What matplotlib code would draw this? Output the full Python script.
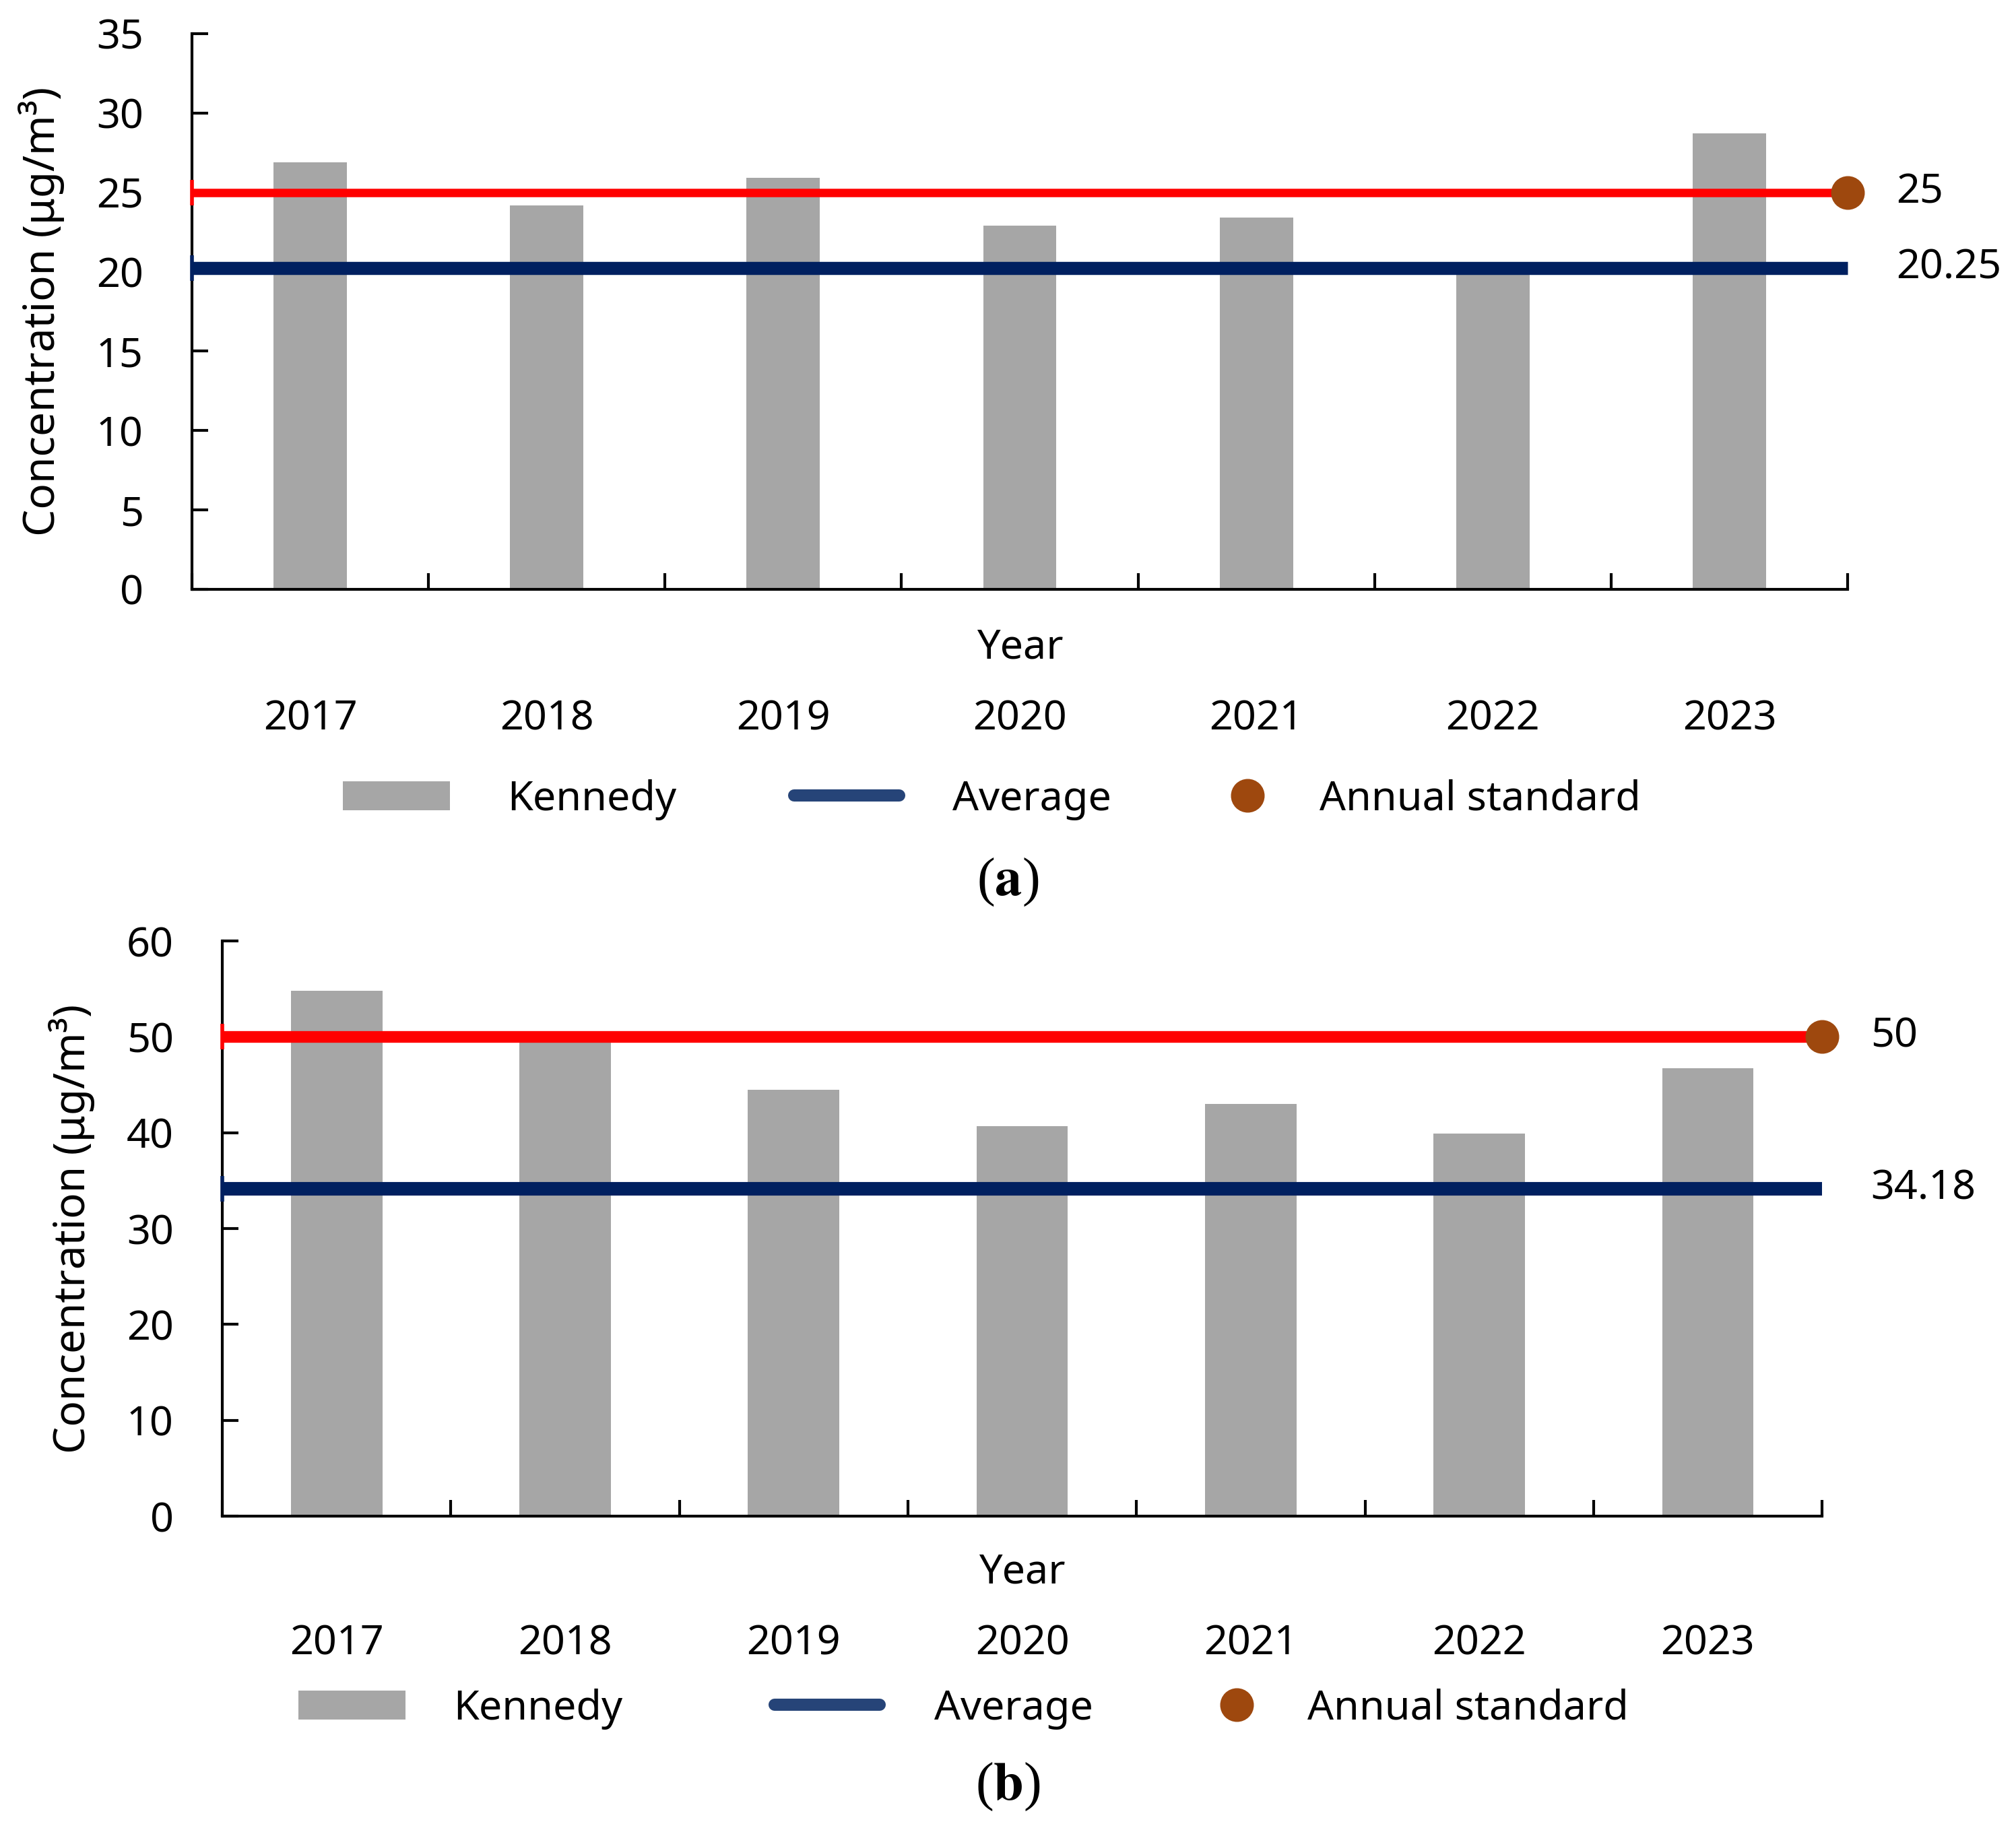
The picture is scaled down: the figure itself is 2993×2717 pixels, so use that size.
import matplotlib
matplotlib.use('Agg')
import matplotlib.pyplot as plt
from matplotlib.patches import Patch
from matplotlib.lines import Line2D
import numpy as np

plt.rcParams['font.family'] = ['Noto Sans', 'DejaVu Sans']
plt.rcParams['mathtext.fontset'] = 'stix'

years = ['2017', '2018', '2019', '2020', '2021', '2022', '2023']
pm25_vals = [26.9, 24.2, 25.9, 22.9, 23.4, 20.0, 28.7]
pm25_avg = 20.25
pm25_std = 25
pm10_vals = [54.8, 49.6, 44.5, 40.7, 43.0, 39.9, 46.7]
pm10_avg = 34.18
pm10_std = 50
y_label = 'Concentration (μg/m³)'
series_label = 'Kennedy'
avg_label = 'Average'
std_label = 'Annual standard'

BAR = '#A6A6A6'
RED = '#FF0000'
NAVY = '#002060'
NAVY_LEG = '#264478'
BROWN = '#9E480E'
FS = 44
W, H = 2993, 2717

fig = plt.figure(figsize=(W / 100, H / 100), dpi=100)
ax1 = fig.add_axes([0.0952, 0.678, 0.8213, 0.3036])
ax2 = fig.add_axes([0.1103, 0.1715, 0.7935, 0.3143])


def legend_item(handle, label, x_px, y_px, hl, pad):
    fig.legend([handle], [label], loc='center left',
               bbox_to_anchor=(x_px / W, 1 - y_px / H), frameon=False,
               fontsize=FS, handlelength=hl, handletextpad=pad,
               borderpad=0, borderaxespad=0)


def draw(ax, vals, avg, std, ymax, ystep, barw, red_lw, navy_lw,
         year_y, tick_pad, leg, panel, panel_xy):
    n = len(vals)
    x = np.arange(n)
    ax.bar(x, vals, width=barw, color=BAR, edgecolor='none', zorder=1)
    xs = [x[0] - 0.5, x[-1] + 0.5]
    ax.plot(xs, [std, std], color=RED, lw=red_lw, solid_capstyle='butt',
            zorder=3, clip_on=False)
    ax.plot([xs[0]], [std], marker='|', color=RED, ms=27, mew=4, zorder=4,
            clip_on=False)
    ax.plot([xs[1]], [std], marker='o', color=BROWN, ms=35, mec=BROWN,
            zorder=5, clip_on=False)
    ax.plot(xs, [avg, avg], color=NAVY, lw=navy_lw, solid_capstyle='butt',
            zorder=3, clip_on=False)
    ax.plot([xs[0]], [avg], marker='|', color=NAVY, ms=27, mew=4, zorder=4,
            clip_on=False)
    for v in (std, avg):
        ax.annotate(f'{v:g}', xy=(xs[1], v), xytext=(52, 0),
                    textcoords='offset points', va='center', ha='left',
                    fontsize=FS, annotation_clip=False)
    ax.set_xlim(xs)
    ax.set_ylim(0, ymax)
    ax.set_yticks(np.arange(0, ymax + 0.1, ystep))
    ax.set_xticks(x, labels=years)
    ax.set_xticks(np.arange(n + 1) - 0.5, minor=True)
    ax.tick_params(axis='x', which='major', length=0, pad=tick_pad,
                   labelsize=FS)
    ax.tick_params(axis='x', which='minor', length=17, width=3,
                   direction='in')
    ax.tick_params(axis='y', length=17, width=3, direction='in', pad=52,
                   labelsize=FS)
    for s in ('top', 'right'):
        ax.spines[s].set_visible(False)
    for s in ('left', 'bottom'):
        ax.spines[s].set_linewidth(3)
    ax.set_ylabel(y_label, fontsize=46, labelpad=34)
    ax.text(0.5, year_y, 'Year', transform=ax.transAxes, ha='center',
            va='center', fontsize=FS)
    (px, tx), (lx, ax_t), (cx, ct), ly = leg
    em = FS * 100 / 72
    legend_item(Patch(facecolor=BAR, edgecolor='none'), series_label,
                px, ly, 2.6, (tx - px) / em - 2.6)
    legend_item(Line2D([], [], color=NAVY_LEG, lw=13, solid_capstyle='round'),
                avg_label, lx + 9, ly, 2.55, (ax_t - lx - 9) / em - 2.55)
    legend_item(Line2D([], [], ls='none', marker='o', color=BROWN, ms=35),
                std_label, cx - em / 2, ly, 1.0, (ct - cx - em / 2) / em)
    fig.text(panel_xy[0], panel_xy[1], '($\\mathbf{' + panel + '}$)',
             ha='center', va='center', fontsize=58,
             family='Liberation Serif')


draw(ax1, pm25_vals, pm25_avg, pm25_std, 35, 5, 0.31, 9, 14,
     -0.106, 117, ((509, 753), (1170, 1414), (1852, 1959), 1187),
     'a', (0.5, 0.518))
draw(ax2, pm10_vals, pm10_avg, pm10_std, 60, 10, 0.40, 12.5, 14.5,
     -0.098, 115, ((443, 673), (1141, 1387), (1836, 1941), 2537),
     'b', (0.5, 0.0235))

fig.savefig('out.png', dpi=100, facecolor='white')
